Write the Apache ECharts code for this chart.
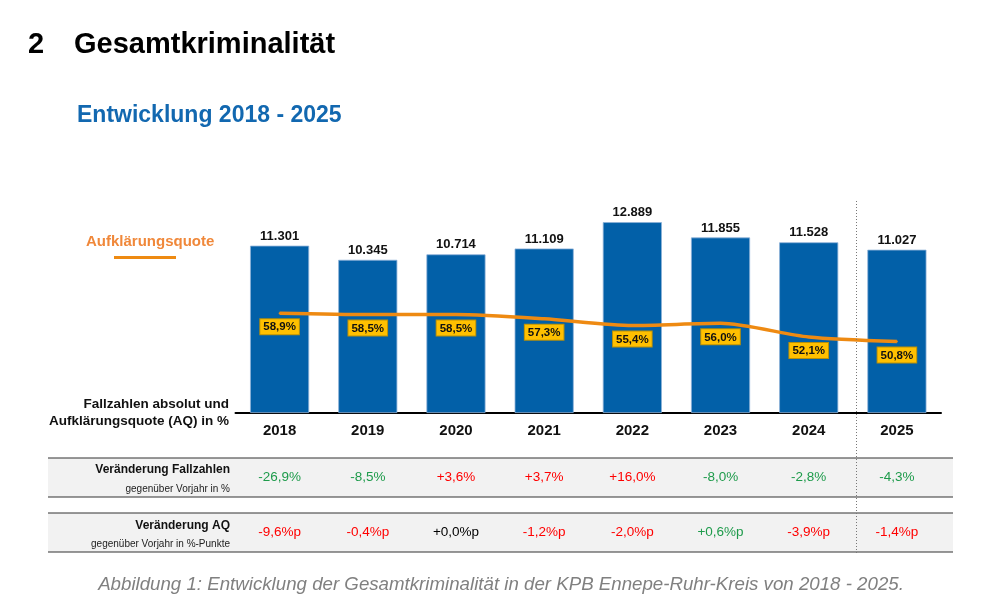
<!DOCTYPE html>
<html>
<head>
<meta charset="utf-8">
<script src="https://cdn.jsdelivr.net/npm/echarts@6/dist/echarts.min.js"></script>
<style>
html,body{margin:0;padding:0;background:#fff;}
#c{width:997px;height:615px;}
</style>
</head>
<body>
<div id="c"></div>
<script>
const years = ['2018','2019','2020','2021','2022','2023','2024','2025'];
const cases = [11301, 10345, 10714, 11109, 12889, 11855, 11528, 11027];
const clearance = [58.9, 58.5, 58.5, 57.3, 55.4, 56.0, 52.1, 50.8];
const caseChange = [-26.9, -8.5, 3.6, 3.7, 16.0, -8.0, -2.8, -4.3];
const aqChange = [-9.6, -0.4, 0.0, -1.2, -2.0, 0.6, -3.9, -1.4];

const FONT = '"Liberation Sans", Arial, sans-serif';
const GREEN = '#1E9B4B', RED = '#FF0000';

function fmtNum(v){ return String(v).replace(/\B(?=(\d{3})+(?!\d))/g, '.'); }
function fmtPct(v, suffix){
  const s = (v < 0 ? '-' : '+') + Math.abs(v).toFixed(1).replace('.', ',');
  return s + suffix;
}

const chart = echarts.init(document.getElementById('c'));

const tableAxis = (data, offset, fmt, colorFn) => ({
  type: 'category', gridIndex: 0, position: 'bottom', offset: offset,
  data: years,
  axisLine: {show: false}, axisTick: {show: false}, splitLine: {show: false},
  axisLabel: {
    interval: 0, margin: 0, fontFamily: FONT, fontSize: 13.5, lineHeight: 16,
    formatter: (val, idx) => fmt(data[idx]),
    color: (val, idx) => colorFn(data[idx])
  }
});

chart.setOption({
  animation: false,
  grid: {left: 235.5, right: 56, top: 205.7, bottom: 202, containLabel: false},
  xAxis: [
    {
      type: 'category', data: years, gridIndex: 0,
      axisLine: {show: true, lineStyle: {color: '#000', width: 2}},
      axisTick: {show: false},
      axisLabel: {interval: 0, margin: 10, color: '#111', fontFamily: FONT, fontSize: 15, fontWeight: 'bold', lineHeight: 16}
    },
    tableAxis(caseChange, 56, v => fmtPct(v, '%'), v => v > 0 ? RED : GREEN),
    tableAxis(aqChange, 111, v => fmtPct(v, '%p'), v => v < 0 ? RED : (v > 0 ? GREEN : '#000'))
  ],
  yAxis: [
    {type: 'value', min: 0, max: 14000, show: false, splitLine: {show: false}},
    {type: 'value', min: 30.4, max: 89.6, show: false, splitLine: {show: false}}
  ],
  series: [
    {
      type: 'bar', data: cases, xAxisIndex: 0, yAxisIndex: 0,
      barCategoryGap: '33%',
      itemStyle: {color: '#0260A8', borderColor: '#8DB1D8', borderWidth: 0.8},
      label: {
        show: true, position: 'top', distance: 3, color: '#111',
        fontFamily: FONT, fontSize: 13, fontWeight: 'bold',
        formatter: p => fmtNum(p.value)
      }
    },
    {
      type: 'line', data: clearance, xAxisIndex: 0, yAxisIndex: 1,
      smooth: 0.25, symbol: 'circle', symbolSize: 2, showSymbol: true,
      lineStyle: {color: '#EE8A12', width: 3.5},
      itemStyle: {color: '#EE8A12'},
      label: {
        show: true, position: 'bottom', distance: 5, color: '#111',
        fontFamily: FONT, fontSize: 11.5, fontWeight: 'bold',
        backgroundColor: '#FFC000', borderColor: '#B8900A', borderWidth: 1,
        padding: [2, 3, 1, 3],
        formatter: p => p.value.toFixed(1).replace('.', ',') + '%'
      }
    }
  ],
  graphic: [
    {type: 'text', left: 28, top: 30, style: {text: '2', font: 'bold 29px ' + FONT, fill: '#000'}},
    {type: 'text', left: 74, top: 30, style: {text: 'Gesamtkriminalität', font: 'bold 29px ' + FONT, fill: '#000'}},
    {type: 'text', left: 77, top: 104, style: {text: 'Entwicklung 2018 - 2025', font: 'bold 23px ' + FONT, fill: '#1268B0'}},
    {type: 'text', left: 86, top: 234, style: {text: 'Aufklärungsquote', font: 'bold 15px ' + FONT, fill: '#F0883A'}},
    {type: 'line', shape: {x1: 114, y1: 257.5, x2: 176, y2: 257.5}, style: {stroke: '#EE8A12', lineWidth: 3}},
    {type: 'text', x: 229, y: 404, style: {text: 'Fallzahlen absolut und', font: 'bold 13.5px ' + FONT, fill: '#111', align: 'right', verticalAlign: 'middle'}},
    {type: 'text', x: 229, y: 421.5, style: {text: 'Aufklärungsquote (AQ) in %', font: 'bold 13.5px ' + FONT, fill: '#111', align: 'right', verticalAlign: 'middle'}},
    // table rows
    {type: 'rect', z: -1, shape: {x: 48, y: 458, width: 905, height: 39}, style: {fill: '#F2F2F2'}},
    {type: 'rect', z: -1, shape: {x: 48, y: 513, width: 905, height: 39}, style: {fill: '#F2F2F2'}},
    {type: 'line', shape: {x1: 48, y1: 458, x2: 953, y2: 458}, style: {stroke: '#333', lineWidth: 1.2}},
    {type: 'line', shape: {x1: 48, y1: 497, x2: 953, y2: 497}, style: {stroke: '#333', lineWidth: 1.2}},
    {type: 'line', shape: {x1: 48, y1: 513, x2: 953, y2: 513}, style: {stroke: '#333', lineWidth: 1.2}},
    {type: 'line', shape: {x1: 48, y1: 552, x2: 953, y2: 552}, style: {stroke: '#333', lineWidth: 1.2}},
    {type: 'text', x: 230, y: 470, style: {text: 'Veränderung Fallzahlen', font: 'bold 12px ' + FONT, fill: '#111', align: 'right', verticalAlign: 'middle'}},
    {type: 'text', x: 230, y: 489.5, style: {text: 'gegenüber Vorjahr in %', font: '10px ' + FONT, fill: '#222', align: 'right', verticalAlign: 'middle'}},
    {type: 'text', x: 230, y: 526, style: {text: 'Veränderung AQ', font: 'bold 12px ' + FONT, fill: '#111', align: 'right', verticalAlign: 'middle'}},
    {type: 'text', x: 230, y: 544.5, style: {text: 'gegenüber Vorjahr in %-Punkte', font: '10px ' + FONT, fill: '#222', align: 'right', verticalAlign: 'middle'}},
    // dotted separator
    {type: 'line', z: 10, shape: {x1: 856.5, y1: 201, x2: 856.5, y2: 553}, style: {stroke: '#777', lineWidth: 1, lineDash: [1, 2]}},
    // caption
    {type: 'text', x: 501, y: 585, style: {text: 'Abbildung 1: Entwicklung der Gesamtkriminalität in der KPB Ennepe-Ruhr-Kreis von 2018 - 2025.', font: 'italic 18.7px ' + FONT, fill: '#808080', align: 'center', verticalAlign: 'middle'}}
  ]
});
</script>
</body>
</html>
